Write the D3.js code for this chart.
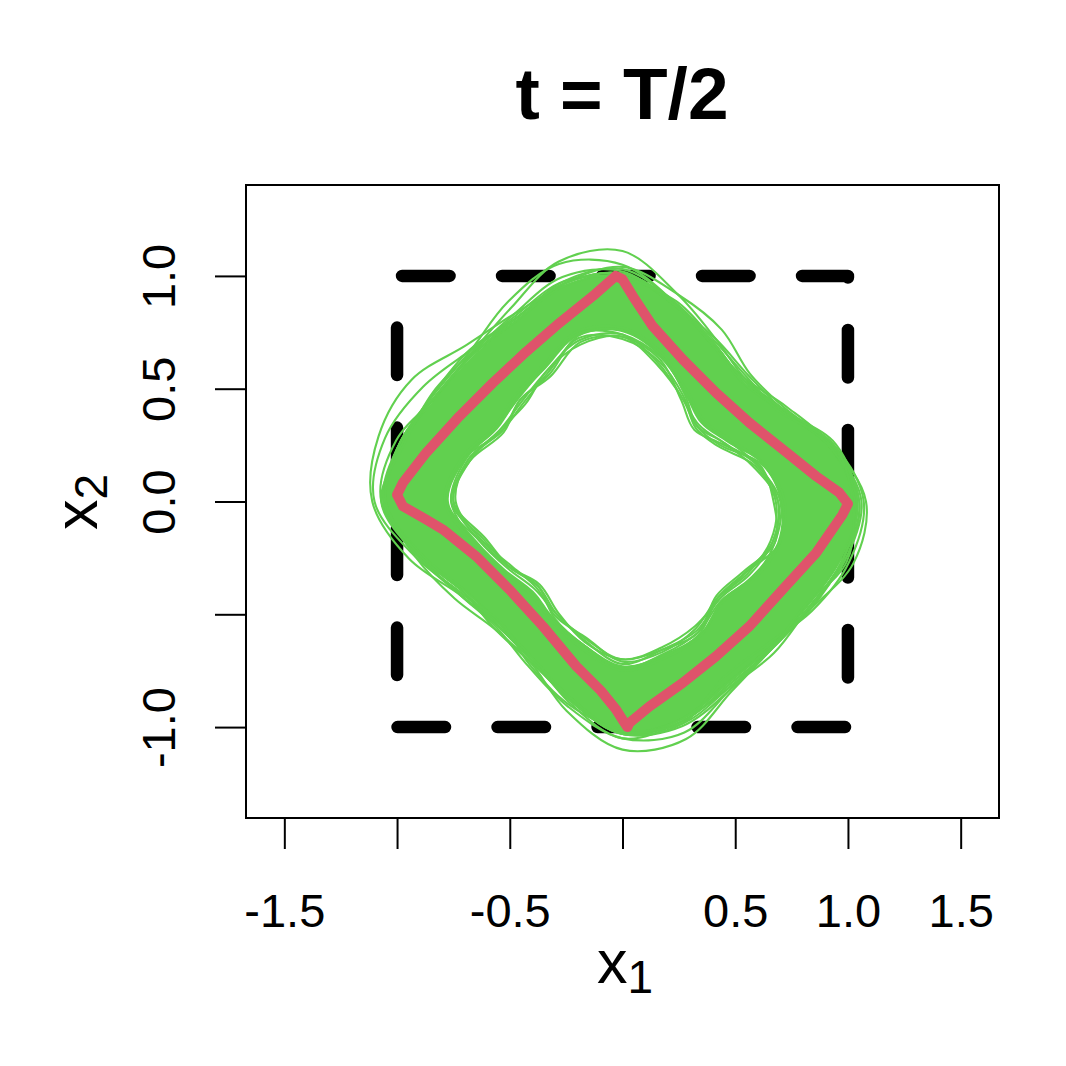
<!DOCTYPE html>
<html>
<head>
<meta charset="utf-8">
<script src="https://cdn.jsdelivr.net/npm/d3@7"></script>
<style>
  html, body { margin: 0; padding: 0; background: #ffffff; }
  svg { display: block; }
  text { font-family: "Liberation Sans", Arial, Helvetica, sans-serif; fill: #000; }
</style>
</head>
<body>
<svg id="chart" width="1066" height="1066"></svg>
<script>
// ---------------- data ----------------
const titleText = "t = T/2";
const xTickValues = [-1.5, -1, -0.5, 0, 0.5, 1, 1.5];
const xTickLabels = ["-1.5", "", "-0.5", "", "0.5", "1.0", "1.5"];
const yTickValues = [-1, -0.5, 0, 0.5, 1];
const yTickLabels = ["-1.0", "", "0.0", "0.5", "1.0"];

// dashed reference square (corners, drawn in this order)
const squareX = [-1, 1, 1, -1];
const squareY = [1, 1, -1, -1];

// red reference curve (x1, x2)
const redX = [-1.00, -0.974, -0.871, -0.723, -0.575, -0.427, -0.279, -0.132, -0.03,
              0.0, 0.046, 0.134, 0.267, 0.415, 0.563, 0.711, 0.859, 0.962, 1.0,
              0.975, 0.859, 0.711, 0.563, 0.415, 0.267, 0.12, 0.031, 0.022,
              0.005, -0.03, -0.095, -0.205, -0.353, -0.501, -0.649, -0.797, -0.871, -0.974];
const redY = [0.03, 0.083, 0.216, 0.378, 0.526, 0.664, 0.792, 0.910, 1.0,
              0.985, 0.910, 0.777, 0.63, 0.482, 0.349, 0.231, 0.112, 0.039, -0.01,
              -0.06, -0.228, -0.39, -0.553, -0.686, -0.804, -0.908, -0.981, -1.0,
              -0.975, -0.92, -0.84, -0.73, -0.553, -0.391, -0.243, -0.124, -0.08, -0.021];

// green ensemble, polar form: radius at each angle (degrees)
const angleDeg = [0, 15, 30, 45, 60, 75, 90, 105, 120, 135, 150, 165,
                  180, 195, 210, 225, 240, 255, 270, 285, 300, 315, 330, 345];
// dense core of the ensemble (outer / inner envelope)
const bandOuter = [1.04, .95, .81, .75, .80, .90, 1.00, .99, .93, .925, .945, 1.01,
                   1.05, .92, .80, .77, .80, .90, 1.02, 1.00, .93, .92, .94, 1.00];
const bandInner = [.70, .64, .53, .49, .55, .66, .75, .76, .68, .65, .64, .72,
                   .77, .67, .60, .56, .60, .655, .73, .70, .68, .62, .66, .71];
// individual ensemble members
const member01 = [1.06, .96, .84, .77, .80, .91, 1.03, 1.01, .94, .955, .965, 1.01, 1.06, .94, .83, .78, .80, .92, 1.05, 1.01, .95, .95, .95, 1.02];
const member02 = [1.04, .98, .82, .79, .83, .90, 1.02, 1.03, .96, .935, .945, 1.04, 1.07, .92, .81, .80, .82, .90, 1.03, 1.03, .96, .92, .96, 1.01];
const member03 = [1.08, .96, .83, .80, .88, .95, 1.04, 1.00, .93, .93, .95, 1.02, 1.05, .93, .81, .78, .81, .91, 1.03, 1.01, .94, .93, .96, 1.06];
const member04 = [1.03, .95, .82, .77, .83, .95, 1.11, 1.10, .99, .94, .95, 1.01, 1.06, .93, .80, .77, .81, .91, 1.02, 1.00, .93, .92, .95, 1.01];
const member05 = [1.04, .95, .81, .76, .81, .91, 1.05, 1.09, 1.02, .95, .96, 1.02, 1.05, .92, .80, .77, .80, .90, 1.02, 1.00, .93, .92, .94, 1.00];
const member06 = [1.04, .96, .82, .76, .80, .90, 1.00, .99, .96, .98, 1.08, 1.12, 1.11, .98, .83, .78, .81, .91, 1.03, 1.00, .93, .92, .95, 1.01];
const member07 = [1.05, .95, .81, .75, .81, .91, 1.01, 1.00, .94, .95, 1.02, 1.09, 1.10, .95, .82, .77, .80, .90, 1.02, 1.01, .94, .93, .95, 1.01];
const member08 = [1.04, .95, .81, .75, .80, .90, 1.00, .99, .93, .93, .95, 1.01, 1.05, .95, .86, .80, .82, .96, 1.10, 1.09, .97, .93, .95, 1.01];
const member09 = [1.05, .96, .82, .76, .81, .90, 1.01, 1.00, .94, .93, .95, 1.02, 1.06, .93, .83, .79, .84, .94, 1.05, 1.06, .96, .93, .95, 1.02];
const member10 = [1.07, .97, .82, .76, .81, .91, 1.01, 1.00, .94, .93, .95, 1.02, 1.05, .93, .81, .78, .81, .91, 1.03, 1.02, .90, .90, .97, 1.04];
const member11 = [.68, .61, .49, .46, .54, .64, .72, .75, .66, .62, .62, .71, .74, .65, .57, .54, .59, .625, .71, .69, .65, .60, .64, .68];
const member12 = [.67, .63, .51, .45, .52, .65, .73, .73, .64, .64, .61, .70, .76, .64, .58, .52, .57, .645, .70, .68, .67, .59, .62, .70];
const member13 = [.69, .62, .52, .48, .53, .63, .74, .74, .67, .63, .63, .71, .75, .66, .59, .55, .58, .64, .72, .68, .66, .61, .65, .69];
const member14 = [.71, .64, .50, .47, .55, .67, .76, .76, .65, .64, .62, .73, .78, .66, .58, .53, .60, .66, .73, .71, .68, .60, .63, .72];
const member15 = [.70, .62, .54, .50, .56, .66, .74, .77, .69, .65, .65, .72, .76, .68, .61, .57, .61, .66, .74, .70, .67, .62, .67, .70];
const member16 = [.72, .65, .55, .51, .57, .68, .77, .78, .70, .67, .66, .74, .79, .69, .62, .58, .62, .68, .75, .72, .69, .63, .68, .72];
const member17 = [1.02, .97, .80, .78, .82, .92, .99, 1.01, .95, .94, .97, 1.00, 1.07, .94, .82, .76, .83, .93, 1.01, 1.02, .95, .93, .93, 1.03];
const member18 = [.69, .60, .52, .47, .53, .62, .73, .72, .67, .61, .63, .70, .75, .63, .58, .53, .58, .63, .70, .67, .64, .61, .63, .69];
const members = [member01, member02, member03, member04, member05, member06, member07, member08, member09,
                 member10, member11, member12, member13, member14, member15, member16, member17, member18];

// ---------------- drawing ----------------
const W = 1066, H = 1066;
const plotL = 246, plotR = 999, plotT = 185, plotB = 818;
const GREEN = "#61D04F", RED = "#DF536B";

const svg = d3.select("#chart");
svg.append("rect").attr("width", W).attr("height", H).attr("fill", "#fff");

const x = d3.scaleLinear().domain([-1.67, 1.67]).range([plotL, plotR]);
const y = d3.scaleLinear().domain([-1.403, 1.403]).range([plotB, plotT]);

// title
svg.append("text")
  .attr("x", 622).attr("y", 119)
  .attr("text-anchor", "middle")
  .style("font-size", "73px").style("font-weight", "bold")
  .text(titleText);

// box
svg.append("rect")
  .attr("x", plotL).attr("y", plotT)
  .attr("width", plotR - plotL).attr("height", plotB - plotT)
  .attr("fill", "none").attr("stroke", "#000").attr("stroke-width", 2);

// x axis
const xAxis = d3.axisBottom(x)
  .tickValues(xTickValues)
  .tickSize(31).tickSizeOuter(0).tickPadding(45)
  .tickFormat((d, i) => xTickLabels[i]);
const gx = svg.append("g").attr("transform", `translate(0,${plotB})`).call(xAxis);
gx.select(".domain").remove();
gx.selectAll(".tick line").attr("stroke", "#000").attr("stroke-width", 2);
gx.selectAll(".tick text").style("font-size", "47px").attr("fill", "#000");
gx.append("line")
  .attr("x1", x(xTickValues[0])).attr("x2", x(xTickValues[xTickValues.length - 1]))
  .attr("y1", 0).attr("y2", 0).attr("stroke", "#000").attr("stroke-width", 2);

// y axis
const yAxis = d3.axisLeft(y)
  .tickValues(yTickValues)
  .tickSize(31).tickSizeOuter(0)
  .tickFormat((d, i) => yTickLabels[i]);
const gy = svg.append("g").attr("transform", `translate(${plotL},0)`).call(yAxis);
gy.select(".domain").remove();
gy.selectAll(".tick line").attr("stroke", "#000").attr("stroke-width", 2);
gy.selectAll(".tick text")
  .style("font-size", "47px").attr("fill", "#000")
  .attr("x", null).attr("dy", null)
  .attr("text-anchor", "middle")
  .attr("transform", `translate(${175 - plotL},0) rotate(-90)`);
gy.append("line")
  .attr("x1", 0).attr("x2", 0)
  .attr("y1", y(yTickValues[0])).attr("y2", y(yTickValues[yTickValues.length - 1]))
  .attr("stroke", "#000").attr("stroke-width", 2);

// axis titles x1 / x2
const xl = svg.append("text").attr("x", 625).attr("y", 983).attr("text-anchor", "middle")
  .style("font-size", "61px");
xl.append("tspan").text("x");
xl.append("tspan").attr("dy", 10).style("font-size", "46px").text("1");

const yl = svg.append("text").attr("transform", "translate(97,502) rotate(-90)")
  .attr("text-anchor", "middle").style("font-size", "61px");
yl.append("tspan").text("x");
yl.append("tspan").attr("dy", 10).style("font-size", "46px").text("2");

// plotting region clip
svg.append("clipPath").attr("id", "clip")
  .append("rect").attr("x", plotL).attr("y", plotT)
  .attr("width", plotR - plotL).attr("height", plotB - plotT);
const gp = svg.append("g").attr("clip-path", "url(#clip)");

// dashed square
const sqPts = squareX.map((v, i) => [v, squareY[i]]);
gp.append("path")
  .attr("d", d3.line().x(d => x(d[0])).y(d => y(d[1])).curve(d3.curveLinearClosed)(sqPts))
  .attr("fill", "none").attr("stroke", "#000").attr("stroke-width", 12.5)
  .attr("stroke-linecap", "round").attr("stroke-linejoin", "round")
  .attr("stroke-dasharray", "47.5,52.5").attr("stroke-dashoffset", 95);

// polar helper
const toPts = radii => radii.map((r, i) => {
  const a = angleDeg[i] * Math.PI / 180;
  return [r * Math.cos(a), r * Math.sin(a)];
});
const smooth = d3.line().x(d => x(d[0])).y(d => y(d[1])).curve(d3.curveCatmullRomClosed.alpha(0.5));

// dense ensemble core
gp.append("path")
  .attr("d", smooth(toPts(bandOuter)) + smooth(toPts(bandInner)))
  .attr("fill", GREEN).attr("fill-rule", "evenodd").attr("stroke", "none");

// individual members
gp.selectAll("path.member").data(members).join("path")
  .attr("class", "member")
  .attr("d", r => smooth(toPts(r)))
  .attr("fill", "none").attr("stroke", GREEN).attr("stroke-width", 2.1);

// red curve
const redPts = redX.map((v, i) => [v, redY[i]]);
gp.append("path")
  .attr("d", d3.line().x(d => x(d[0])).y(d => y(d[1])).curve(d3.curveLinearClosed)(redPts))
  .attr("fill", "none").attr("stroke", RED).attr("stroke-width", 10)
  .attr("stroke-linejoin", "round").attr("stroke-linecap", "round");
</script>
</body>
</html>
